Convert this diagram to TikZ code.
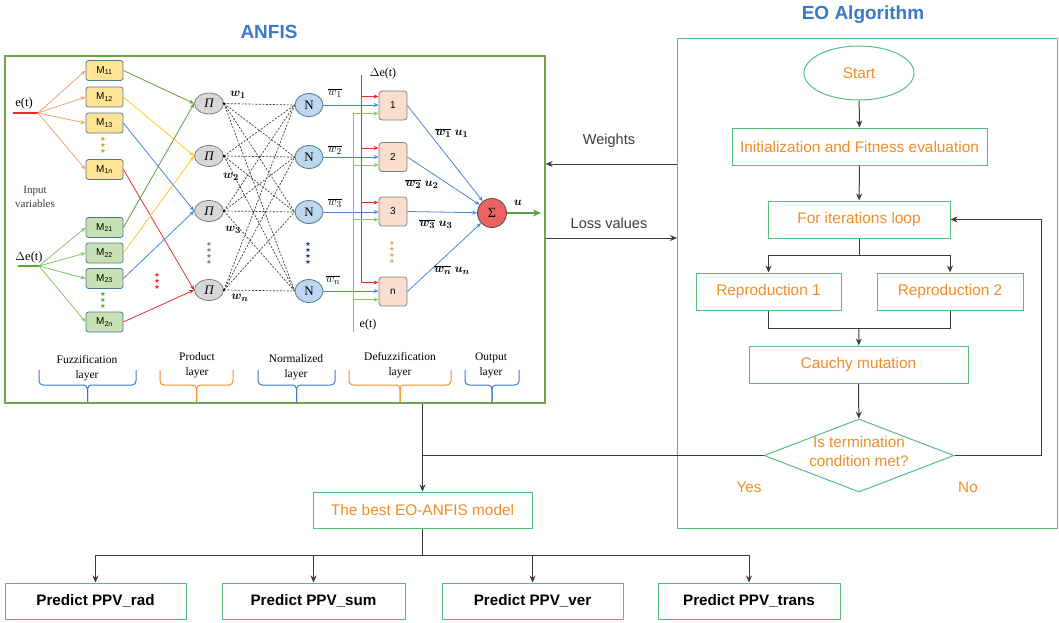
\documentclass[tikz,border=0pt]{standalone}
\usepackage{fontspec}
\usepackage{bm}
\setmainfont{Liberation Serif}
\newfontfamily\arialf{Liberation Sans}
\newfontfamily\djv{DejaVu Sans}
\usetikzlibrary{shapes.geometric,arrows.meta,calc}
\definecolor{anfisgreen}{RGB}{112,163,78}
\definecolor{eogreen}{RGB}{84,190,130}
\definecolor{eoorange}{RGB}{242,140,40}
\definecolor{ttlblue}{RGB}{58,120,200}
\definecolor{lineblue}{RGB}{70,135,215}
\definecolor{lred}{RGB}{232,45,45}
\definecolor{lgreen}{RGB}{95,160,60}
\definecolor{lyellow}{RGB}{255,200,40}
\definecolor{lorange}{RGB}{245,160,110}
\definecolor{lgreen2}{RGB}{130,200,95}
\definecolor{myellow}{RGB}{255,228,150}
\definecolor{mgreen}{RGB}{200,225,180}
\definecolor{mborder}{RGB}{80,120,150}
\definecolor{pgray}{RGB}{215,215,215}
\definecolor{nblue}{RGB}{190,215,240}
\definecolor{peach}{RGB}{250,222,205}
\definecolor{sigred}{RGB}{236,98,98}
\definecolor{darkgray}{RGB}{60,60,60}
\definecolor{navy}{RGB}{30,60,140}
\newcommand\mylbrace[3]{%
  \draw[#3,line width=1pt,rounded corners=4pt] (#1,370) -- (#1,385) -- ({(#1+#2)/2},385) -- ({(#1+#2)/2},402);
  \draw[#3,line width=1pt,rounded corners=4pt] (#2,370) -- (#2,385) -- ({(#1+#2)/2},385) -- ({(#1+#2)/2},402);}
\begin{document}
\begin{tikzpicture}[x=1pt,y=-1pt,
  title/.style={font=\arialf\bfseries\fontsize{19}{21}\selectfont,text=ttlblue},
  eobox/.style={draw=eogreen,line width=1pt,text=eoorange,font=\arialf\fontsize{15.4}{18}\selectfont,inner sep=0},
  predbox/.style={draw=eogreen,line width=1pt,font=\arialf\bfseries\fontsize{15.2}{17}\selectfont,minimum height=36,inner sep=0},
  flow/.style={draw=darkgray,line width=1pt,-{Stealth[length=7pt,width=6pt]}},
  flowline/.style={draw=darkgray,line width=1pt},
  mbox/.style={draw=mborder,line width=0.8pt,rounded corners=2.5pt,minimum width=37,minimum height=20,inner sep=0,font=\arialf\fontsize{10}{11}\selectfont},
  pnode/.style={ellipse,draw=gray,line width=0.8pt,fill=pgray,minimum width=29,minimum height=21,inner sep=0,font=\itshape\fontsize{13}{13}\selectfont},
  nnode/.style={ellipse,draw=mborder,line width=0.8pt,fill=nblue,minimum width=28,minimum height=23,inner sep=0,font=\fontsize{13}{13}\selectfont},
  dbox/.style={draw=gray,line width=0.8pt,fill=peach,rounded corners=3pt,minimum width=28,minimum height=29,inner sep=0,font=\arialf\fontsize{10}{11}\selectfont},
  sarr/.style={line width=0.8pt,-{Stealth[length=5pt,width=4pt]}},
  dashlink/.style={line width=0.7pt,dash pattern=on 2pt off 1.5pt,draw=darkgray},
  stars/.style={font=\djv\fontsize{6.5}{6}\selectfont,align=center,inner sep=0},
  layertxt/.style={font=\fontsize{11.5}{15}\selectfont,align=center,inner sep=0},
  mlbl/.style={font=\fontsize{13}{13}\selectfont,inner sep=0}
]
\useasboundingbox (0,0) rectangle (1059,622);

% ---------- titles ----------
\node[title] (tanfis) at (269,32) {ANFIS};
\node[title] (teo) at (863,15) {EO Algorithm};

% ---------- frames ----------
\node[draw=anfisgreen,line width=1.3pt,minimum width=540,minimum height=347,inner sep=0] (anfisbox) at (275,229.5) {};
\node[draw=eogreen,line width=1pt,minimum width=380,minimum height=490,inner sep=0] (eoframe) at (867.5,283) {};

% ---------- EO flowchart ----------
\node[eobox,ellipse,minimum width=110,minimum height=54] (start) at (859,73) {Start};
\node[eobox,minimum width=255,minimum height=37] (init) at (859.5,146.5) {Initialization and Fitness evaluation};
\node[eobox,minimum width=182,minimum height=37] (loop) at (859,219.5) {For iterations loop};
\node[eobox,minimum width=145,minimum height=37] (rep1) at (768.5,291.5) {Reproduction 1};
\node[eobox,minimum width=146,minimum height=37] (rep2) at (950,291.5) {Reproduction 2};
\node[eobox,minimum width=219,minimum height=37] (cauchy) at (858.5,364.5) {Cauchy mutation};
\node[draw=eogreen,line width=1pt,diamond,minimum width=190,minimum height=73,inner sep=0] (dia) at (859,455.5) {};
\node[text=eoorange,font=\arialf\fontsize{15.3}{19}\selectfont,align=center,inner sep=0] (diatxt) at (859,452) {Is termination\\condition met?};
\node[text=eoorange,font=\arialf\fontsize{15.3}{17}\selectfont] (yes) at (749,487) {Yes};
\node[text=eoorange,font=\arialf\fontsize{15.3}{17}\selectfont] (no) at (968,487) {No};

\draw[flow] (start) -- (init);
\draw[flow] (init) -- (loop);
\coordinate (br) at (859,255);
\draw[flowline] (loop) -- (br);
\draw[flow] (br) -| (rep1);
\draw[flow] (br) -| (rep2);
\coordinate (mg) at (859,328);
\draw[flowline] (rep1.south) |- (mg);
\draw[flowline] (rep2.south) |- (mg);
\draw[flow] (mg) -- (cauchy);
\draw[flow] (cauchy) -- (dia);
\coordinate (noc) at (1041,455.5);
\draw[flow] (dia.east) -- (noc) |- (loop.east);
\coordinate (yesj) at (423,455.5);
\draw[flowline] (dia.west) -- (yesj);

% ---------- weights / loss ----------
\coordinate (wy) at (610,164);
\coordinate (ly) at (610,238);
\draw[flow] (eoframe.west |- wy) -- (anfisbox.east |- wy);
\draw[flow] (anfisbox.east |- ly) -- (eoframe.west |- ly);
\node[font=\arialf\fontsize{14.5}{17}\selectfont,text=darkgray] (wlbl) at (609,141) {Weights};
\node[font=\arialf\fontsize{14.5}{17}\selectfont,text=darkgray] (llbl) at (609,223) {Loss values};

% ---------- best model + predictions ----------
\node[eobox,minimum width=219,minimum height=36] (best) at (422.5,510) {The best EO-ANFIS model};
\draw[flow] (anfisbox.south -| best.north) -- (best.north);
\node[predbox,minimum width=181] (p1) at (95.5,601) {Predict PPV\_rad};
\node[predbox,minimum width=183] (p2) at (313.5,601) {Predict PPV\_sum};
\node[predbox,minimum width=181] (p3) at (532.5,601) {Predict PPV\_ver};
\node[predbox,minimum width=182] (p4) at (749,601) {Predict PPV\_trans};
\coordinate (pb) at (422.5,555);
\draw[flowline] (best) -- (pb);
\draw[flow] (pb) -| (p1);
\draw[flow] (pb) -| (p2);
\draw[flow] (pb) -| (p3);
\draw[flow] (pb) -| (p4);

% ---------- ANFIS: inputs ----------
\node[font=\fontsize{12.5}{12.5}\selectfont] (etl) at (24,103) {e(t)};
\coordinate (et0) at (13,113);
\coordinate (et) at (38,113);
\draw[lred,line width=2pt] (et0) -- (et);
\node[font=\fontsize{12.5}{12.5}\selectfont] (detl) at (29,257) {$\Delta$e(t)};
\coordinate (det0) at (18,266);
\coordinate (det) at (39,266);
\draw[lgreen,line width=2pt] (det0) -- (det);
\node[font=\fontsize{11}{14}\selectfont,align=center,text=darkgray] (inv) at (35,197) {Input\\variables};

% M boxes
\node[mbox,fill=myellow] (m11) at (104.5,70.5) {M\textsubscript{11}};
\node[mbox,fill=myellow] (m12) at (104.5,97) {M\textsubscript{12}};
\node[mbox,fill=myellow] (m13) at (104.5,123) {M\textsubscript{13}};
\node[mbox,fill=myellow] (m1n) at (104.5,169.5) {M\textsubscript{1n}};
\node[mbox,fill=mgreen] (m21) at (104.5,227.5) {M\textsubscript{21}};
\node[mbox,fill=mgreen] (m22) at (104.5,253) {M\textsubscript{22}};
\node[mbox,fill=mgreen] (m23) at (104.5,278.5) {M\textsubscript{23}};
\node[mbox,fill=mgreen] (m2n) at (104.5,322) {M\textsubscript{2n}};
\foreach \m in {m11,m12,m13,m1n} \draw[sarr,lorange] (et) -- (\m.west);
\foreach \m in {m21,m22,m23,m2n} \draw[sarr,lgreen2] (det) -- (\m.west);
\node[stars,text=lyellow!80!black] (s1) at (103,145) {★\\★\\★};
\node[stars,text=lgreen] (s2) at (103,300) {★\\★\\★};

% Pi nodes
\node[pnode] (pi1) at (209,103.5) {Π};
\node[pnode] (pi2) at (209,156) {Π};
\node[pnode] (pi3) at (209,211) {Π};
\node[pnode] (pi4) at (209,290) {Π};
\node[stars,text=gray] (s3) at (209,253) {★\\★\\★\\★};
\node[stars,text=lred] (s4) at (157,281) {★\\★\\★};
\draw[sarr,lgreen] (m11.east) -- (pi1.west);
\draw[sarr,lyellow] (m12.east) -- (pi2.west);
\draw[sarr,lineblue] (m13.east) -- (pi3.west);
\draw[sarr,lred] (m1n.east) -- (pi4.west);
\draw[sarr,lgreen] (m21.east) -- (pi1.west);
\draw[sarr,lyellow] (m22.east) -- (pi2.west);
\draw[sarr,lineblue] (m23.east) -- (pi3.west);
\draw[sarr,lred] (m2n.east) -- (pi4.west);

% N nodes
\node[nnode] (n1) at (309,105) {N};
\node[nnode] (n2) at (309,157) {N};
\node[nnode] (n3) at (309,212) {N};
\node[nnode] (n4) at (309,291) {N};
\node[stars,text=navy] (s5) at (308,253) {★\\★\\★\\★};
\foreach \p in {pi1,pi2,pi3,pi4}{
  \foreach \n in {n1,n2,n3,n4}{\draw[dashlink] (\p.east) -- (\n.west);}
  \fill (\p.east) circle (1.3);
}
\node[mlbl] (w1) at (238,95) {$\bm{w_1}$};
\node[mlbl] (w2) at (231,177) {$\bm{w_2}$};
\node[mlbl] (w3) at (233,230) {$\bm{w_3}$};
\node[mlbl] (wn) at (240,298) {$\bm{w_n}$};

% defuzzification boxes
\node[dbox] (b1) at (393,105.5) {1};
\node[dbox] (b2) at (393,157) {2};
\node[dbox] (b3) at (393,211.5) {3};
\node[dbox] (bn) at (393,291.5) {n};
\node[stars,text=eoorange!80] (s6) at (392,252) {★\\★\\★\\★};
\foreach \n/\b in {n1/b1,n2/b2,n3/b3,n4/bn}{\draw[sarr,lineblue] (\n.east) -- (\b.west |- \n.east);}
\node[mlbl] (ow1) at (335,93) {$\overline{w_1}$};
\node[mlbl] (ow2) at (335,150) {$\overline{w_2}$};
\node[mlbl] (ow3) at (335,203) {$\overline{w_3}$};
\node[mlbl] (own) at (333,280) {$\overline{w_n}$};

% red and green input rails
\coordinate (rtop) at (361,75);
\coordinate (rbot) at (361,282);
\draw[lred,line width=1pt] (rtop) -- (rbot);
\coordinate (gtop) at (353,113);
\coordinate (gbot) at (353,332);
\draw[lgreen2,line width=1pt] (gtop) -- (gbot);
\node[font=\fontsize{12}{12}\selectfont] (dell) at (383,74) {$\Delta$e(t)};
\node[font=\fontsize{12}{12}\selectfont] (ell) at (368,325) {e(t)};
\foreach \b in {b1,b2,b3,bn}{
  \draw[sarr,lred] (rtop |- {$(\b.center)+(0,-9)$}) -- (\b.west |- {$(\b.center)+(0,-9)$});
  \draw[sarr,lgreen2] (gtop |- {$(\b.center)+(0,8)$}) -- (\b.west |- {$(\b.center)+(0,8)$});
}

% sum node
\node[circle,draw=black!70,line width=0.8pt,fill=sigred,minimum size=29,inner sep=0,font=\fontsize{14}{14}\selectfont] (sig) at (492,213) {Σ};
\foreach \b in {b1,b2,b3,bn}{\draw[sarr,lineblue] (\b.east) -- (sig);}
\coordinate (uout) at (541,213);
\draw[lgreen,line width=1.5pt,-{Stealth[length=8pt,width=7pt]}] (sig.east) -- (uout);
\node[mlbl] (ulbl) at (518,203) {$\bm{u}$};
\node[mlbl] (wu1) at (452,133) {$\bm{\overline{w_1}\;u_1}$};
\node[mlbl] (wu2) at (422,184) {$\bm{\overline{w_2}\;u_2}$};
\node[mlbl] (wu3) at (436,224) {$\bm{\overline{w_3}\;u_3}$};
\node[mlbl] (wun) at (452,270) {$\bm{\overline{w_n}\;u_n}$};

% layer braces
\mylbrace{39}{136}{ttlblue}
\node[layertxt] (tf) at (87,368) {Fuzzification\\layer};
\mylbrace{160}{233}{eoorange}
\node[layertxt] (tp) at (197,365) {Product\\layer};
\mylbrace{258}{335}{ttlblue}
\node[layertxt] (tn) at (296,367) {Normalized\\layer};
\mylbrace{349}{451}{eoorange}
\node[layertxt] (td) at (400,365) {Defuzzification\\layer};
\mylbrace{465}{519}{ttlblue}
\node[layertxt] (to) at (491,365) {Output\\layer};
\end{tikzpicture}
\end{document}
